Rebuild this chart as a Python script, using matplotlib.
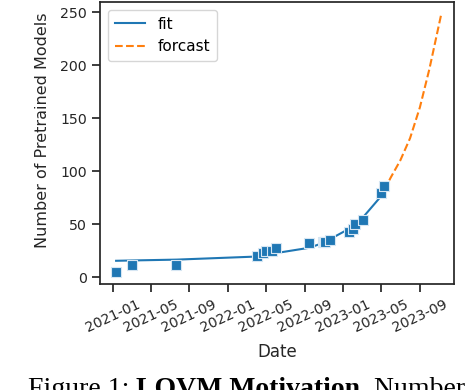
import numpy as np
import pandas as pd
import matplotlib
matplotlib.use("Agg")
import matplotlib.pyplot as plt
import matplotlib.dates as mdates

# observed counts of pretrained models
obs_dates = ["2021-01-12", "2021-03-02", "2021-07-22", "2022-04-02", "2022-04-21",
             "2022-05-03", "2022-05-22", "2022-06-03", "2022-09-14", "2022-10-29",
             "2022-11-01", "2022-11-05", "2022-11-19", "2023-01-20", "2023-01-31",
             "2023-02-08", "2023-03-04", "2023-05-02", "2023-05-11"]
obs_counts = [5, 11, 11, 20, 23, 25, 25, 27, 32, 33, 33, 33, 35, 42, 45, 50, 54, 79, 86]

# fitted curve evaluated at the observation dates
fit_counts = [15.3, 15.6, 16.4, 19.3, 20.3, 21.0, 22.0, 22.6, 27.5, 32.0, 32.5, 33.2,
              35.5, 45.5, 49.0, 51.5, 56.0, 76.5, 82.0]

# forecast
fc_dates = ["2023-05-11", "2023-06-01", "2023-07-01", "2023-08-01", "2023-09-01",
            "2023-10-01", "2023-11-07"]
fc_counts = [82, 94, 110, 131, 160, 196, 247]

obs_x = pd.to_datetime(obs_dates)
fc_x = pd.to_datetime(fc_dates)

plt.rcParams['font.family'] = ['DejaVu Sans']
fig = plt.figure(figsize=(4.68, 3.9), dpi=100)
ax = fig.add_axes([0.2137, 0.2718, 0.7563, 0.7231])

ax.plot(obs_x, fit_counts, color='#1f77b4', lw=1.5, label='fit')
ax.plot(fc_x, fc_counts, color='#ff7f0e', lw=1.5, ls=(0, (3.7, 1.6)), label='forcast')
ax.scatter(obs_x, obs_counts, marker='s', s=46, color='#1f77b4',
           edgecolors='#d6e6f3', linewidths=0.8, zorder=3)

ax.xaxis.set_major_locator(mdates.MonthLocator(bymonth=[1, 5, 9]))
ax.xaxis.set_major_formatter(mdates.DateFormatter('%Y-%m'))
ax.set_xlim(pd.Timestamp("2020-11-22"), pd.Timestamp("2023-12-18"))
ax.set_ylim(-6.6, 259.5)
ax.set_yticks([0, 50, 100, 150, 200, 250])

for s in ax.spines.values():
    s.set_linewidth(1.25)
    s.set_color('#262626')
ax.tick_params(length=6, width=1.25, color='#262626', labelsize=10.2,
               labelcolor='#262626')
plt.setp(ax.get_xticklabels(), rotation=25, ha='center')

ax.set_xlabel('Date', fontsize=12, color='#262626', labelpad=6)
ax.set_ylabel('Number of Pretrained Models', fontsize=11.5, color='#262626')
ax.yaxis.set_label_coords(-0.141, 0.546)

ax.legend(loc='upper left', fontsize=11, handlelength=2.0, borderpad=0.45,
          framealpha=0.8, edgecolor='#cccccc')

# caption text below the figure (cut off at the bottom edge)
fig.canvas.draw()
r = fig.canvas.get_renderer()
x0 = 28 / 468
yb = 1 - 396 / 390
parts = [("Figure 1: ", 'normal'), ("LOVM Motivation", 'bold'), (". Number", 'normal')]
inv = fig.transFigure.inverted()
for txt, w in parts:
    t = fig.text(x0, yb, txt, fontsize=20, fontweight=w, va='baseline',
                 family='Liberation Serif', color='black')
    bb = t.get_window_extent(renderer=r)
    x0 = inv.transform((bb.x1, bb.y0))[0]

fig.savefig('out.png', dpi=100)
